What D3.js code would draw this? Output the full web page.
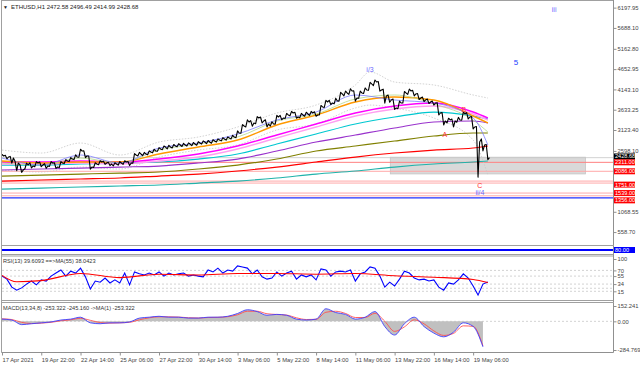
<!DOCTYPE html>
<html>
<head>
<meta charset="utf-8">
<script src="https://d3js.org/d3.v7.min.js"></script>
<style>
  body { margin: 0; background: #fff; }
  svg { display: block; }
  text { font-family: "Liberation Sans", Arial, sans-serif; }
</style>
</head>
<body>
<div id="chart"></div>
<script>
const W = 640, H = 366;

// price bars, one every 8 hours from 17 Apr 06:00
const STEP = 8;
const closes = [2470, 2445, 2419, 2294, 2120, 2244, 2218, 2294, 2244, 2218,
  2294, 2193, 2294, 2344, 2394, 2445, 2595, 2470, 2193, 2269,
  2319, 2294, 2269, 2269, 2294, 2319, 2294, 2495, 2520, 2520,
  2570, 2595, 2646, 2696, 2696, 2721, 2746, 2746, 2771, 2771,
  2797, 2822, 2822, 2847, 2872, 2897, 2922, 2947, 3048, 3224,
  3325, 3299, 3425, 3350, 3274, 3274, 3450, 3425, 3501, 3551,
  3450, 3501, 3526, 3551, 3501, 3702, 3827, 3802, 3853, 4029,
  4054, 4104, 3928, 4054, 4129, 4280, 4330, 4129, 3978, 3878,
  3677, 3802, 4054, 4104, 4029, 3928, 3878, 3827, 3802, 3551,
  3350, 3375, 3350, 3375, 3526, 3450, 3199, 2822, 2746, 2428.68];
const highs = [2510, 2490, 2460, 2330, 2250, 2290, 2300, 2330, 2320, 2280,
  2330, 2300, 2330, 2380, 2430, 2500, 2640, 2600, 2470, 2300,
  2350, 2340, 2310, 2300, 2330, 2350, 2330, 2530, 2560, 2560,
  2600, 2640, 2680, 2720, 2740, 2760, 2780, 2790, 2800, 2810,
  2830, 2850, 2860, 2880, 2900, 2930, 2950, 2990, 3100, 3260,
  3380, 3360, 3460, 3450, 3380, 3330, 3490, 3490, 3540, 3590,
  3570, 3540, 3570, 3590, 3580, 3740, 3870, 3870, 3920, 4070,
  4100, 4160, 4110, 4100, 4180, 4320, 4380, 4340, 4150, 4000,
  3900, 3850, 4090, 4150, 4120, 4040, 3950, 3900, 3850, 3810,
  3560, 3420, 3400, 3440, 3570, 3560, 3460, 3210, 2900, 2760];
const lows = [2420, 2400, 2290, 2100, 2060, 2150, 2170, 2200, 2200, 2160,
  2210, 2160, 2180, 2280, 2330, 2380, 2440, 2430, 2140, 2180,
  2250, 2260, 2230, 2220, 2240, 2260, 2230, 2290, 2470, 2480,
  2500, 2550, 2590, 2630, 2650, 2670, 2700, 2710, 2720, 2730,
  2740, 2770, 2780, 2790, 2820, 2850, 2870, 2900, 2930, 3040,
  3200, 3220, 3280, 3300, 3200, 3220, 3270, 3380, 3410, 3480,
  3420, 3430, 3470, 3490, 3470, 3500, 3690, 3760, 3780, 3850,
  3980, 4020, 3850, 3920, 4040, 4120, 4240, 4100, 3800, 3820,
  3640, 3660, 3800, 4020, 3980, 3890, 3840, 3790, 3750, 3500,
  3250, 3300, 3200, 3320, 3370, 3400, 3150, 1940, 2600, 2380];

// moving averages, read at every label hour
const maHours = [0, 64, 128, 192, 256, 320, 384, 448, 512, 576, 640, 704, 768, 792];
const maTeal    = [1640, 1665, 1691, 1716, 1741, 1791, 1841, 1917, 2017, 2093, 2193, 2269, 2319, 2344];
const maRed     = [1841, 1867, 1892, 1917, 1967, 2017, 2093, 2193, 2319, 2444, 2545, 2620, 2671, 2721];
const maOlive   = [1967, 1992, 2017, 2042, 2068, 2143, 2243, 2394, 2595, 2721, 2847, 2972, 3048, 3048];
const maPurple  = [2118, 2143, 2168, 2193, 2218, 2294, 2394, 2595, 2821, 2997, 3173, 3324, 3349, 3299];
const maCyan    = [2243, 2243, 2269, 2294, 2319, 2394, 2520, 2771, 3022, 3274, 3450, 3575, 3475, 3399];
const maPink    = [2269, 2269, 2294, 2269, 2344, 2444, 2646, 2922, 3198, 3475, 3651, 3726, 3525, 3374];
const maMagenta = [2319, 2319, 2344, 2319, 2394, 2520, 2721, 2997, 3274, 3550, 3726, 3801, 3575, 3425];
const maOrange  = [2344, 2294, 2319, 2319, 2520, 2696, 2872, 3249, 3500, 3827, 3952, 3877, 3475, 3299];
const maGreen   = [2294, 2243, 2419, 2294, 2620, 2771, 2947, 3349, 3525, 3902, 4003, 3776, 3374, 3073];
const maBlue    = [2419, 2243, 2495, 2294, 2671, 2796, 3022, 3374, 3575, 4003, 3877, 3801, 3425, 2746];

const bandHours = [0, 64, 128, 192, 256, 320, 384, 448, 512, 576, 600, 640, 704, 768, 792];
const bandUpper = [2620, 2545, 2796, 2495, 2821, 2947, 3198, 3550, 3751, 4254, 4581, 4329, 4254, 4003, 3927];
const bandLower = [2118, 2068, 2193, 2143, 2444, 2620, 2746, 3123, 3274, 3676, 3750, 3676, 3425, 2872, 1992];

// horizontal objects
const levelLines = [2311, 2086, 1840, 1790, 1539, 1470];
const blueLevel = 1420;
const levelLabels = [2311, 2086, 1751, 1539, 1356];
const bidPrice = 2428.68;
const boxHours = [633, 951];
const boxPrices = [2440, 2020];

// wave marks: [text, hour, price]
const wavesBlue = [['i/3', 600, 4631], ['5', 838, 4807], ['iii', 900, 6138], ['ii/4', 779, 1540]];
const wavesRed = [['A', 722, 2998], ['B', 753, 3626], ['C', 779, 1716]];

const priceTicks = [6197.95, 5688.10, 5162.80, 4652.95, 4143.10, 3633.25, 3123.40,
  2598.10, 1068.55, 558.70];
const timeLabels = ['17 Apr 2021', '19 Apr 22:00', '22 Apr 14:00', '25 Apr 06:00', '27 Apr 22:00',
  '30 Apr 14:00', '3 May 06:00', '5 May 22:00', '8 May 14:00', '11 May 06:00', '13 May 22:00',
  '16 May 14:00', '19 May 06:00'];
const timeLabelStep = 64;

// RSI(13), one every 8 hours
const rsiVals = [55, 47, 26, 18, 24, 34, 42, 32, 45, 42, 55, 63, 71, 55, 68, 63, 76, 53, 21, 42,
  39, 50, 37, 45, 37, 63, 32, 66, 61, 58, 63, 58, 66, 55, 63, 58, 61, 63, 55, 58,
  55, 53, 71, 66, 76, 63, 71, 68, 82, 79, 76, 61, 71, 53, 47, 50, 66, 55, 63, 68,
  47, 58, 53, 58, 45, 74, 71, 55, 66, 68, 66, 71, 42, 61, 66, 79, 76, 55, 26, 39,
  29, 47, 68, 63, 50, 45, 47, 42, 45, 26, 18, 37, 34, 45, 61, 50, 29, 5, 34, 39.6];
const rsiMaHours = [0, 24, 64, 128, 192, 256, 320, 384, 448, 512, 576, 640, 704, 768, 792];
const rsiMaVals = [57, 40, 43, 62, 51, 60, 58, 62, 62, 60, 62, 56, 52, 46, 38];
const rsiLevels = [70, 55, 34, 23, 15];
const rsiLabels = [100, 70, 55, 34, 15];

// MACD(13,34,8), one every 16 hours
const MACD_STEP = 16;
const macdVals = [22, 13, -33, -24, -15, -6, 13, 22, 41, -15, -24, -15, -15, -6, 32, 41, 50, 41, 41, 32,
  32, 41, 41, 50, 78, 115, 97, 60, 69, 60, 22, 13, 22, 125, 87, 69, 22, 41, 97, -52,
  -136, -24, 41, -52, -117, -154, -108, -15, -50, -253];
const signalVals = [25, 18, -10, -22, -18, -10, 5, 15, 30, 10, -12, -18, -15, -10, 15, 35, 45, 45, 42, 36,
  33, 38, 40, 46, 65, 100, 100, 75, 68, 62, 35, 18, 20, 90, 100, 78, 38, 38, 80, 0,
  -100, -55, 15, -25, -95, -140, -120, -45, -50, -245];
const macdLabels = [152.241, 0, -284.769];

// scales
const x = d3.scaleLinear().domain([0, 996]).range([2, 613]);
const yMain = d3.scaleLinear().domain([234, 6339.5]).range([245, 2]);
const yRsi = d3.scaleLinear().domain([0, 100]).range([297, 259]);
const yMacd = d3.scaleLinear().domain([-284.769, 152.241]).range([350, 306]);

const svg = d3.select('#chart').append('svg').attr('width', W).attr('height', H);

svg.append('clipPath').attr('id', 'clipMain')
  .append('rect').attr('x', 2).attr('y', 2).attr('width', 611).attr('height', 243);

const main = svg.append('g').attr('clip-path', 'url(#clipMain)');

function curveLine(hours, ys) {
  return d3.line().x((d, i) => x(hours[i])).y(d => ys(d)).curve(d3.curveMonotoneX);
}

// gray box
main.append('rect')
  .attr('x', x(boxHours[0])).attr('y', yMain(boxPrices[0]))
  .attr('width', x(boxHours[1]) - x(boxHours[0]))
  .attr('height', yMain(boxPrices[1]) - yMain(boxPrices[0]))
  .attr('fill', '#d9d9d9').attr('stroke', '#c4c4c4').attr('stroke-width', 0.8);

// level lines
main.selectAll('line.level').data(levelLines).join('line')
  .attr('class', 'level')
  .attr('x1', 2).attr('x2', 613)
  .attr('y1', d => yMain(d)).attr('y2', d => yMain(d))
  .attr('stroke', (d, i) => i === 0 ? '#ff8080' : '#ffa8a8').attr('stroke-width', 1);

main.append('line')
  .attr('x1', 2).attr('x2', 613)
  .attr('y1', yMain(blueLevel)).attr('y2', yMain(blueLevel))
  .attr('stroke', '#2030ff').attr('stroke-width', 1.2);

main.append('line')
  .attr('x1', 2).attr('x2', 613)
  .attr('y1', yMain(bidPrice)).attr('y2', yMain(bidPrice))
  .attr('stroke', '#c8c8c8').attr('stroke-width', 0.8);

// bands
[bandUpper, bandLower].forEach(vals => {
  main.append('path').datum(vals)
    .attr('d', curveLine(bandHours, yMain))
    .attr('fill', 'none').attr('stroke', '#c8c8c8').attr('stroke-width', 0.8)
    .attr('stroke-dasharray', '1.5,1.5');
});

// moving averages
const maSeries = [
  {vals: maTeal, color: '#20b2aa', w: 1.2},
  {vals: maRed, color: '#ff0000', w: 1.2},
  {vals: maOlive, color: '#808000', w: 1.2},
  {vals: maPurple, color: '#9932cc', w: 1.2},
  {vals: maCyan, color: '#00c8d0', w: 1.2},
  {vals: maPink, color: '#ff9ef0', w: 1.4},
  {vals: maMagenta, color: '#ff00ff', w: 1.4},
  {vals: maOrange, color: '#ff9900', w: 1.4},
  {vals: maGreen, color: '#b5d98a', w: 0.8},
  {vals: maBlue, color: '#7c7cff', w: 0.8}
];
maSeries.forEach(s => {
  main.append('path').datum(s.vals)
    .attr('d', curveLine(maHours, yMain))
    .attr('fill', 'none').attr('stroke', s.color).attr('stroke-width', s.w);
});

// price: each bar traced through its extremes then its close
const pricePts = [];
closes.forEach((c, i) => {
  const up = i === 0 || c >= closes[i - 1];
  const cx = x(i * STEP);
  pricePts.push([cx - 1.6, yMain(up ? lows[i] : highs[i])]);
  pricePts.push([cx, yMain(up ? highs[i] : lows[i])]);
  pricePts.push([cx + 1.6, yMain(c)]);
});
main.append('path').datum(pricePts)
  .attr('d', d3.line())
  .attr('fill', 'none').attr('stroke', '#000').attr('stroke-width', 1.1)
  .attr('stroke-linejoin', 'round');

// wave labels
main.selectAll('text.wb').data(wavesBlue).join('text')
  .attr('class', 'wb')
  .attr('x', d => x(d[1])).attr('y', d => yMain(d[2]))
  .attr('text-anchor', 'middle').attr('dominant-baseline', 'middle')
  .attr('font-size', d => d[0] === '5' ? 8 : 7)
  .attr('fill', d => d[0] === '5' ? '#2040ff' : '#6b6bff')
  .text(d => d[0]);

main.selectAll('text.wr').data(wavesRed).join('text')
  .attr('class', 'wr')
  .attr('x', d => x(d[1])).attr('y', d => yMain(d[2]))
  .attr('text-anchor', 'middle').attr('dominant-baseline', 'middle')
  .attr('font-size', 7).attr('fill', '#ff3030')
  .text(d => d[0]);

// header
svg.append('text').attr('x', 3).attr('y', 9).attr('font-size', 5).attr('fill', '#222').text('\u25BC');
svg.append('text').attr('x', 11).attr('y', 9).attr('font-size', 6).attr('fill', '#222')
  .text('ETHUSD,H1  2472.58 2496.49 2414.99 2428.68');

// thin window with the 80 level
svg.append('line').attr('x1', 2).attr('x2', 613).attr('y1', 250).attr('y2', 250)
  .attr('stroke', '#0000ff').attr('stroke-width', 2);

// RSI panel
const rsiG = svg.append('g');
rsiG.selectAll('line').data(rsiLevels).join('line')
  .attr('x1', 2).attr('x2', 613)
  .attr('y1', d => yRsi(d)).attr('y2', d => yRsi(d))
  .attr('stroke', '#c0c0c0').attr('stroke-width', 0.7).attr('stroke-dasharray', '2,2');
rsiG.append('path').datum(rsiVals)
  .attr('d', d3.line().x((d, i) => x(i * STEP)).y(d => yRsi(d)))
  .attr('fill', 'none').attr('stroke', '#0000ff').attr('stroke-width', 1.1);
rsiG.append('path').datum(rsiMaVals)
  .attr('d', curveLine(rsiMaHours, yRsi))
  .attr('fill', 'none').attr('stroke', '#ff0000').attr('stroke-width', 1.1);
svg.append('text').attr('x', 3).attr('y', 263).attr('font-size', 5.6).attr('fill', '#333')
  .text('RSI(13) 39.6093 ==>MA(55) 38.0423');

// MACD panel
const macdG = svg.append('g');
macdG.append('line').attr('x1', 2).attr('x2', 613)
  .attr('y1', yMacd(0)).attr('y2', yMacd(0))
  .attr('stroke', '#c0c0c0').attr('stroke-width', 0.7).attr('stroke-dasharray', '2,2');
macdG.append('path').datum(macdVals)
  .attr('d', d3.area().x((d, i) => x(i * MACD_STEP)).y0(yMacd(0)).y1(d => yMacd(d)).curve(d3.curveMonotoneX))
  .attr('fill', '#c0c0c0');
macdG.append('path').datum(signalVals)
  .attr('d', d3.line().x((d, i) => x(i * MACD_STEP)).y(d => yMacd(d)).curve(d3.curveMonotoneX))
  .attr('fill', 'none').attr('stroke', '#ff5050').attr('stroke-width', 0.9);
macdG.append('path').datum(macdVals)
  .attr('d', d3.line().x((d, i) => x(i * MACD_STEP)).y(d => yMacd(d)).curve(d3.curveMonotoneX))
  .attr('fill', 'none').attr('stroke', '#4040ff').attr('stroke-width', 0.9);
svg.append('text').attr('x', 3).attr('y', 310).attr('font-size', 5.6).attr('fill', '#333')
  .text('MACD(13,34,8) -253.322 -245.160 ->MA(1) -253.322');

// frames and separators
const frame = svg.append('g').attr('stroke', '#a0a0a0').attr('fill', 'none');
frame.append('line').attr('x1', 1.5).attr('x2', 1.5).attr('y1', 0).attr('y2', 352.5);
frame.append('line').attr('x1', 1.5).attr('x2', 613.5).attr('y1', 0.5).attr('y2', 0.5);
[245.5, 254.5, 256, 300.5, 302.5].forEach(yy => {
  frame.append('line').attr('x1', 1.5).attr('x2', 613.5).attr('y1', yy).attr('y2', yy);
});

// axes
function styleAxis(g) {
  g.select('.domain').attr('stroke', '#909090');
  g.selectAll('.tick line').attr('stroke', '#909090');
  g.selectAll('.tick text').attr('font-size', 5.8).attr('fill', '#444')
    .attr('font-family', '"Liberation Sans", Arial, sans-serif');
}
svg.append('g').attr('transform', 'translate(613.5,0)')
  .call(d3.axisRight(yMain).tickValues(priceTicks).tickSize(3).tickPadding(1)
    .tickFormat(d3.format('.2f')))
  .call(styleAxis)
  .call(g => g.select('.domain').attr('d', 'M0,0V245.5'));

svg.append('g').attr('transform', 'translate(613.5,0)')
  .call(d3.axisRight(yRsi).tickValues(rsiLabels).tickSize(3).tickPadding(1))
  .call(styleAxis)
  .call(g => g.select('.domain').attr('d', 'M0,245.5V302.5'));

svg.append('g').attr('transform', 'translate(613.5,0)')
  .call(d3.axisRight(yMacd).tickValues(macdLabels).tickSize(3).tickPadding(1)
    .tickFormat(d => d === 0 ? '0.00' : String(d)))
  .call(styleAxis)
  .call(g => g.select('.domain').attr('d', 'M0,302.5V352.5'));

const timeHours = timeLabels.map((d, i) => i * timeLabelStep);
svg.append('g').attr('transform', 'translate(0,352.5)')
  .call(d3.axisBottom(x).tickValues(timeHours).tickSize(3).tickPadding(2)
    .tickFormat((d, i) => timeLabels[i]))
  .call(styleAxis)
  .call(g => g.select('.domain').attr('d', 'M1.5,0H613.5'))
  .call(g => g.selectAll('.tick text').attr('text-anchor', 'start').attr('dx', 0));

// price badges
function badge(y, bg, label) {
  const g = svg.append('g');
  g.append('rect').attr('x', 614).attr('y', y - 3).attr('width', 21).attr('height', 6).attr('fill', bg);
  g.append('text').attr('x', 615).attr('y', y + 2).attr('font-size', 5.6).attr('fill', '#fff')
    .text(label);
}
badge(yMain(bidPrice) - 1.2, '#000', d3.format('.2f')(bidPrice));
levelLabels.forEach(v => badge(yMain(v), '#ff0000', d3.format('.2f')(v)));
badge(250, '#0000ff', '80.00');
</script>
</body>
</html>
